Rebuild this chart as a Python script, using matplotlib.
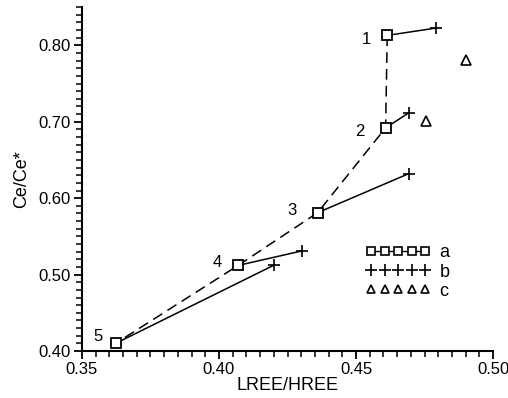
import matplotlib
matplotlib.use("Agg")
import matplotlib.pyplot as plt
from matplotlib.ticker import MultipleLocator, FormatStrFormatter
from matplotlib.lines import Line2D

# Data
labels_a = ["1", "2", "3", "4", "5"]
a_x = [0.4614, 0.4608, 0.436, 0.407, 0.3623]
a_y = [0.813, 0.692, 0.581, 0.512, 0.410]
b_x = [0.4792, 0.4692, 0.4692, 0.4303, 0.4201]
b_y = [0.8226, 0.7115, 0.632, 0.531, 0.5124]
c_x = [0.4903, 0.4754]
c_y = [0.781, 0.701]
legend_labels = ["a", "b", "c"]

plt.rcParams['font.family'] = ['Liberation Sans', 'DejaVu Sans']

fig = plt.figure(figsize=(5.08, 3.98), dpi=100)
ax = fig.add_axes([0.1614, 0.1181, 0.8091, 0.864])

# dashed line through squares
ax.plot(a_x, a_y, ls=(0, (7, 4)), color='black', lw=1.1)
# solid lines from each square to its plus
for xa, ya, xb, yb in zip(a_x, a_y, b_x, b_y):
    ax.plot([xa, xb], [ya, yb], color='black', lw=1.1)
ax.plot(a_x, a_y, ls='none', marker='s', ms=7, mfc='white', mec='black', mew=1.3)
ax.plot(b_x, b_y, ls='none', marker='+', ms=9, mec='black', mew=1.2)
ax.plot(c_x, c_y, ls='none', marker='^', ms=7, mfc='white', mec='black', mew=1.2)

offsets = [(-0.0076, -0.005), (-0.0093, -0.0043), (-0.0092, 0.003), (-0.0075, 0.0043), (-0.0064, 0.0095)]
for lab, x, y, (dx, dy) in zip(labels_a, a_x, a_y, offsets):
    ax.text(x + dx, y + dy, lab, fontsize=12, ha='center', va='center')

ax.set_xlim(0.35, 0.50)
ax.set_ylim(0.40, 0.85)
ax.xaxis.set_major_locator(MultipleLocator(0.05))
ax.xaxis.set_minor_locator(MultipleLocator(0.005))
ax.yaxis.set_major_locator(MultipleLocator(0.10))
ax.yaxis.set_minor_locator(MultipleLocator(0.01))
ax.xaxis.set_major_formatter(FormatStrFormatter('%.2f'))
ax.yaxis.set_major_formatter(FormatStrFormatter('%.2f'))
for s in ['top', 'right']:
    ax.spines[s].set_visible(False)
for s in ['left', 'bottom']:
    ax.spines[s].set_linewidth(1.5)
ax.tick_params(which='major', direction='out', length=6, width=1.3, labelsize=12, pad=2)
ax.tick_params(which='minor', direction='out', length=4, width=1.1)
ax.set_xlabel('LREE/HREE', fontsize=13, labelpad=0)
ax.set_ylabel('Ce/Ce*', fontsize=13, labelpad=6)

handles = [
    Line2D([], [], ls='-', color='black', lw=1, marker='s', ms=6, mfc='white', mec='black', mew=1.2),
    Line2D([], [], ls='none', marker='+', ms=8, mec='black', mew=1.2),
    Line2D([], [], ls='none', marker='^', ms=6, mfc='white', mec='black', mew=1.2),
]
ax.legend(handles, legend_labels, numpoints=5, frameon=False, fontsize=13,
          loc='upper left', bbox_to_anchor=(0.69, 0.31), handlelength=3.6,
          handletextpad=0.5, labelspacing=0.12, borderaxespad=0, borderpad=0)

fig.savefig('out.png', dpi=100)
